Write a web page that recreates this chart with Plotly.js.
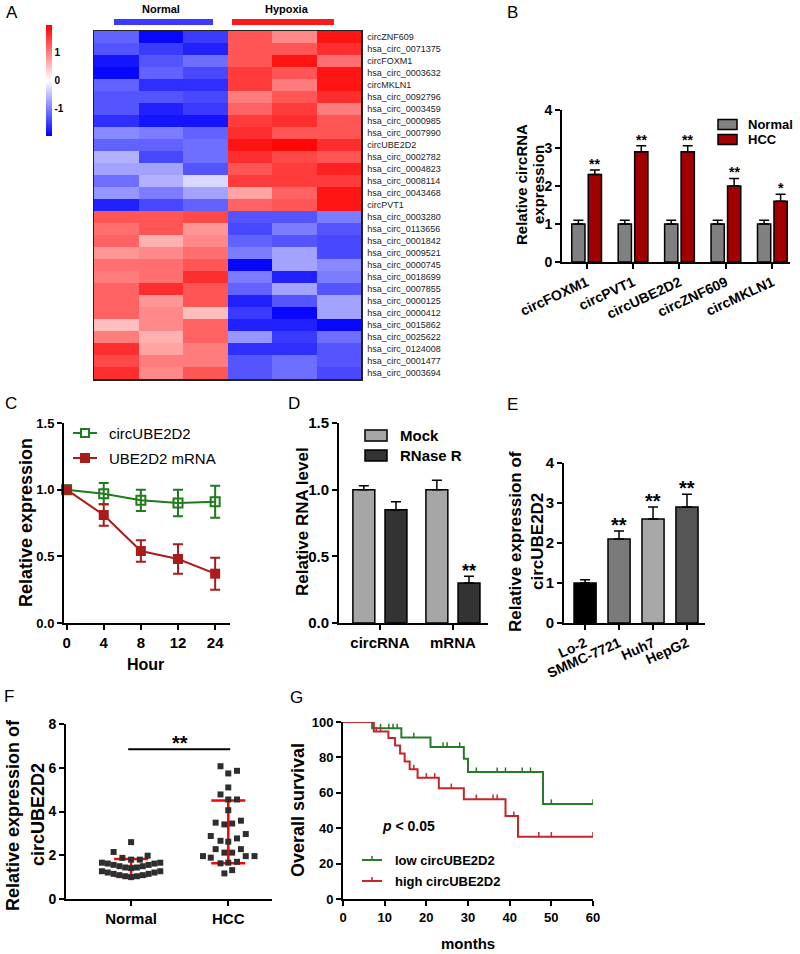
<!DOCTYPE html>
<html><head><meta charset="utf-8">
<script src="https://cdn.plot.ly/plotly-3.0.1.min.js"></script>
<style>html,body{margin:0;padding:0;background:#fff}#chart{width:800px;height:954px}</style>
</head><body><div id="chart"></div>
<script>
// ---------------- DATA ----------------
// Panel A heatmap
const heatRows = ["circZNF609","hsa_circ_0071375","circFOXM1","hsa_circ_0003632","circMKLN1","hsa_circ_0092796","hsa_circ_0003459","hsa_circ_0000985","hsa_circ_0007990","circUBE2D2","hsa_circ_0002782","hsa_circ_0004823","hsa_circ_0008114","hsa_circ_0043468","circPVT1","hsa_circ_0003280","hsa_circ_0113656","hsa_circ_0001842","hsa_circ_0009521","hsa_circ_0000745","hsa_circ_0018699","hsa_circ_0007855","hsa_circ_0000125","hsa_circ_0000412","hsa_circ_0015862","hsa_circ_0025622","hsa_circ_0124008","hsa_circ_0001477","hsa_circ_0003694"];
const normal1  = [-1.2,-1.3,-1.8,-1.9,-1.2,-1.3,-1.3,-1.6,-0.9,-1.2,-0.6,-0.7,-1.1,-0.8,-1.7, 1.3,1.1,1.2,0.8,1.1,1.0,1.2,1.2,1.2,0.5,1.0,1.6,1.4,1.6];
const normal2  = [-1.9,-1.5,-1.3,-1.2,-1.6,-1.3,-1.7,-1.8,-1.0,-1.2,-1.4,-0.7,-0.6,-1.0,-1.4, 1.3,1.3,0.6,0.9,1.1,1.1,1.6,0.8,0.9,0.9,0.6,0.7,1.0,0.9];
const normal3  = [-1.5,-1.7,-1.1,-1.4,-1.6,-1.4,-1.5,-1.8,-1.2,-1.1,-1.1,-1.3,-0.3,-0.7,-1.2, 1.4,0.8,0.9,1.1,1.3,1.6,1.3,1.3,0.5,1.2,1.2,1.0,1.0,1.3];
const hypoxia1 = [1.3,1.3,1.3,1.5,1.5,1.0,1.2,1.5,1.6,1.8,1.6,1.3,1.5,0.7,1.2, -1.3,-1.4,-1.2,-1.0,-1.9,-1.0,-1.2,-1.7,-1.5,-1.7,-0.8,-1.6,-1.3,-1.3];
const hypoxia2 = [0.9,1.3,1.8,1.3,1.0,1.3,1.5,1.6,1.3,1.9,1.4,1.5,1.5,1.2,1.3, -1.3,-1.0,-1.3,-0.7,-0.7,-1.7,-0.7,-1.3,-1.9,-1.7,-1.5,-1.6,-1.1,-1.1];
const hypoxia3 = [1.8,1.6,1.1,1.8,1.8,1.6,1.0,1.3,1.3,1.6,1.3,1.7,1.5,1.8,1.8, -1.0,-1.3,-1.4,-1.4,-0.9,-1.0,-1.3,-0.7,-0.7,-1.9,-1.1,-1.3,-1.3,-1.4];
const heatCols = ["N1","N2","N3","H1","H2","H3"];

// Panel B
const circNames = ["circFOXM1","circPVT1","circUBE2D2","circZNF609","circMKLN1"];
const bNormal = [1.0,1.0,1.0,1.0,1.0];
const bNormalErr = [0.1,0.1,0.1,0.1,0.1];
const bHCC = [2.3,2.9,2.9,2.0,1.6];
const bHCCErr = [0.12,0.16,0.16,0.2,0.18];
const bStars = ["**","**","**","**","*"];

// Panel C
const hours = ["0","4","8","12","24"];
const cCirc = [1.0,0.97,0.92,0.90,0.91];
const cCircErr = [0.01,0.08,0.08,0.10,0.12];
const cMrna = [1.0,0.81,0.54,0.48,0.37];
const cMrnaErr = [0.01,0.08,0.08,0.11,0.12];

// Panel D
const dCats = ["circRNA","mRNA"];
const dMock = [1.0,1.0];
const dMockErr = [0.03,0.07];
const dRnase = [0.85,0.30];
const dRnaseErr = [0.06,0.05];
const dStars = ["","**"];

// Panel E
const eCells = ["Lo-2","SMMC-7721","Huh7","HepG2"];
const eVals = [1.0,2.1,2.6,2.9];
const eErr = [0.08,0.2,0.3,0.32];
const eStars = ["","**","**","**"];

// Panel F
const fGroups = ["Normal","HCC"];
const fNormalVals = [2.6,2.15,1.88,1.8,1.8,1.98, 1.66,1.62,1.56,1.5,1.44,1.41,1.44,1.5,1.56,1.62,1.66, 1.27,1.21,1.15,1.09,1.04,1.0,1.04,1.09,1.15,1.21,1.27];
const fNormalJit  = [0,-0.18,-0.09,0,0.09,0.17, -0.3,-0.24,-0.18,-0.12,-0.06,0,0.06,0.12,0.18,0.24,0.3, -0.3,-0.24,-0.18,-0.12,-0.06,0,0.06,0.12,0.18,0.24,0.3];
const fHccVals = [6.07,5.74,5.86,5.10,4.78,4.55,4.55,4.06,3.49,3.41,3.45,3.58,2.88,2.66,2.62,2.77,2.97,2.28,2.12,2.12,2.28,1.96,1.89,1.96,1.96,1.63,1.66,1.70,1.17,1.32];
const fHccJit  = [-0.08,0,0.09,0,-0.08,0,0.09,0,-0.13,-0.04,0.04,0.13,-0.18,-0.08,0,0.09,0.18,-0.13,-0.04,0.04,0.13,-0.26,-0.18,0.18,0.27,-0.08,0,0.09,-0.04,0.04];
const fMean = [1.44,3.07];
const fSD = [0.39,1.43];

// Panel G
const lowTimes = [0,7,14,21,29,30,48,60];
const lowSurv  = [100,96.4,91.3,85.9,79.2,71.7,53.7,53.7];
const highTimes = [0,7.4,10.9,12.5,13.7,14.8,16,17.9,23,29,39,42,60];
const highSurv  = [100,94.6,91.0,86.7,82.2,77.7,73.3,68.5,62.6,56.4,46.9,35.2,35.2];
const lowCensor = [1,2,3,4,5,6,9,11,12,13,17,24,25,28,32,37,39,43,45,50,60];
const highCensor = [8,9,17,20,22,26,32,36,37,41,47,50,60];

// ---------------- HELPERS ----------------
const W = 800, H = 954;
const FONT = 'Arial, "Liberation Sans", sans-serif';
const px = v => v / W;
const py = v => 1 - v / H;
const dX = (a, b) => [a / W, b / W];
const dY = (top, bottom) => [1 - bottom / H, 1 - top / H];
function ax(size, extra) {
  return Object.assign({
    showline: true, linecolor: '#000', linewidth: 2, ticks: 'outside', ticklen: 5, tickwidth: 2,
    tickcolor: '#000', showgrid: false, zeroline: false, fixedrange: true,
    tickfont: {family: FONT, size: size, color: '#000', weight: 'bold'}
  }, extra);
}
const annotations = [];
function txt(text, x, y, o) {
  o = o || {};
  annotations.push(Object.assign({
    text: text, x: px(x), y: py(y), xref: 'paper', yref: 'paper', showarrow: false,
    xanchor: 'center', yanchor: 'middle',
    font: {family: FONT, size: o.size || 14, color: o.color || '#000', weight: o.bold === false ? 'normal' : 'bold'}
  }, o.extra || {}));
}
const shapes = [];
function rect(x0, y0, x1, y1, fill, lw) {
  shapes.push({type: 'rect', xref: 'paper', yref: 'paper', x0: px(x0), x1: px(x1), y0: py(y1), y1: py(y0),
    fillcolor: fill, line: {color: '#000', width: lw === undefined ? 1.5 : lw}});
}
function line(x0, y0, x1, y1, color, w) {
  shapes.push({type: 'line', xref: 'paper', yref: 'paper', x0: px(x0), x1: px(x1), y0: py(y0), y1: py(y1),
    line: {color: color, width: w}});
}
function stepAt(times, surv, t) {
  let s = surv[0];
  for (let i = 0; i < times.length; i++) if (times[i] <= t) s = surv[i];
  return s;
}
const upErr = (arr, color, w, th) => ({type: 'data', array: arr, arrayminus: arr.map(() => 0), symmetric: false,
  color: color || '#000', thickness: th || 1.5, width: w || 5});

const traces = [];

// ---------------- A: HEATMAP ----------------
const zA = heatRows.map((r, i) => [normal1[i], normal2[i], normal3[i], hypoxia1[i], hypoxia2[i], hypoxia3[i]]);
traces.push({
  type: 'heatmap', x: heatCols.map((c, i) => i), y: heatRows, z: zA, xaxis: 'x', yaxis: 'y',
  zmin: -1.95, zmax: 1.95,
  colorscale: [[0, '#0000ff'], [0.5, '#ffffff'], [1, '#ff0000']],
  colorbar: {x: px(46), xanchor: 'left', y: py(80.5), yanchor: 'middle', len: 111, lenmode: 'pixels',
    thickness: 6, thicknessmode: 'pixels', outlinewidth: 0, xpad: 0, ypad: 0,
    tickvals: [-1, 0, 1], ticktext: ['-1', '0', '1'], ticks: '', ticklabelstandoff: 6,
    tickfont: {family: FONT, size: 10, color: '#000', weight: 'bold'}},
  hoverinfo: 'skip'
});

// ---------------- B ----------------
const bIdx = circNames.map((c, i) => i);
traces.push({type: 'bar', x: bIdx, y: bNormal, width: 0.285, offset: -0.32, xaxis: 'x2', yaxis: 'y2',
  marker: {color: '#808080', line: {color: '#000', width: 1.5}}, error_y: upErr(bNormalErr)});
traces.push({type: 'bar', x: bIdx, y: bHCC, width: 0.285, offset: 0.035, xaxis: 'x2', yaxis: 'y2',
  marker: {color: '#a00000', line: {color: '#000', width: 1.5}}, error_y: upErr(bHCCErr)});
bIdx.forEach(i => annotations.push({text: bStars[i], x: i + 0.035 + 0.1425, y: bHCC[i] + bHCCErr[i],
  xref: 'x2', yref: 'y2', showarrow: false, yanchor: 'bottom', yshift: -4,
  font: {family: FONT, size: 14, color: '#000', weight: 'bold'}}));

// ---------------- C ----------------
const cIdx = hours.map((h, i) => i);
traces.push({type: 'scatter', mode: 'lines+markers', x: cIdx, y: cCirc, xaxis: 'x3', yaxis: 'y3', cliponaxis: false,
  line: {color: '#1e7b1e', width: 2}, marker: {symbol: 'square-open', size: 9, color: '#1e7b1e', line: {width: 2, color: '#1e7b1e'}},
  error_y: {type: 'data', array: cCircErr, color: '#1e7b1e', thickness: 2, width: 5}});
traces.push({type: 'scatter', mode: 'lines+markers', x: cIdx, y: cMrna, xaxis: 'x3', yaxis: 'y3', cliponaxis: false,
  line: {color: '#a81c1c', width: 2}, marker: {symbol: 'square', size: 10, color: '#a81c1c'},
  error_y: {type: 'data', array: cMrnaErr, color: '#a81c1c', thickness: 2, width: 5}});

// ---------------- D ----------------
const dIdx = dCats.map((c, i) => i);
traces.push({type: 'bar', x: dIdx, y: dMock, width: 0.3, offset: -0.37, xaxis: 'x4', yaxis: 'y4',
  marker: {color: '#a6a6a6', line: {color: '#000', width: 1.5}}, error_y: upErr(dMockErr)});
traces.push({type: 'bar', x: dIdx, y: dRnase, width: 0.3, offset: 0.07, xaxis: 'x4', yaxis: 'y4',
  marker: {color: '#333333', line: {color: '#000', width: 1.5}}, error_y: upErr(dRnaseErr)});
dIdx.forEach(i => annotations.push({text: dStars[i], x: i + 0.22, y: dRnase[i] + dRnaseErr[i],
  xref: 'x4', yref: 'y4', showarrow: false, yanchor: 'bottom', yshift: -7,
  font: {family: FONT, size: 18, color: '#000', weight: 'bold'}}));

// ---------------- E ----------------
const eIdx = eCells.map((c, i) => i);
traces.push({type: 'bar', x: eIdx, y: eVals, width: 0.65, xaxis: 'x5', yaxis: 'y5',
  marker: {color: ['#000000', '#7a7a7a', '#a8a8a8', '#555555'], line: {color: '#000', width: 1.5}},
  error_y: upErr(eErr)});
eIdx.forEach(i => annotations.push({text: eStars[i], x: i, y: eVals[i] + eErr[i],
  xref: 'x5', yref: 'y5', showarrow: false, yanchor: 'bottom', yshift: -7,
  font: {family: FONT, size: 20, color: '#000', weight: 'bold'}}));

// ---------------- F ----------------
traces.push({type: 'scatter', mode: 'markers', x: [0, 1], y: fMean, xaxis: 'x6', yaxis: 'y6', cliponaxis: false,
  marker: {size: 1, color: 'rgba(0,0,0,0)'},
  error_y: {type: 'data', array: fSD, color: '#ff0000', thickness: 2.5, width: 17}});
traces.push({type: 'scatter', mode: 'markers', x: fNormalVals.map((v, i) => 0 + fNormalJit[i]), y: fNormalVals,
  xaxis: 'x6', yaxis: 'y6', cliponaxis: false, marker: {symbol: 'square', size: 6, color: '#2e2e2e'}});
traces.push({type: 'scatter', mode: 'markers', x: fHccVals.map((v, i) => 1 + fHccJit[i]), y: fHccVals,
  xaxis: 'x6', yaxis: 'y6', cliponaxis: false, marker: {symbol: 'square', size: 6, color: '#2e2e2e'}});
shapes.push({type: 'line', xref: 'x6', yref: 'y6', x0: -0.03, x1: 1.02, y0: 6.85, y1: 6.85, line: {color: '#000', width: 2}});
annotations.push({text: '**', x: 0.5, y: 6.85, xref: 'x6', yref: 'y6', showarrow: false, yanchor: 'bottom', yshift: -7,
  font: {family: FONT, size: 20, color: '#000', weight: 'bold'}});

// ---------------- G ----------------
const gGreen = '#2a7a2a', gRed = '#c4262b';
traces.push({type: 'scatter', mode: 'lines', x: lowTimes, y: lowSurv, xaxis: 'x7', yaxis: 'y7', cliponaxis: false,
  line: {shape: 'hv', color: gGreen, width: 2}});
traces.push({type: 'scatter', mode: 'lines', x: highTimes, y: highSurv, xaxis: 'x7', yaxis: 'y7', cliponaxis: false,
  line: {shape: 'hv', color: gRed, width: 2}});
traces.push({type: 'scatter', mode: 'markers', x: lowCensor, y: lowCensor.map(t => stepAt(lowTimes, lowSurv, t)),
  xaxis: 'x7', yaxis: 'y7', cliponaxis: false, marker: {size: 1, color: 'rgba(0,0,0,0)'},
  error_y: {type: 'constant', value: 2.6, valueminus: 0, symmetric: false, color: gGreen, thickness: 1.5, width: 0}});
traces.push({type: 'scatter', mode: 'markers', x: highCensor, y: highCensor.map(t => stepAt(highTimes, highSurv, t)),
  xaxis: 'x7', yaxis: 'y7', cliponaxis: false, marker: {size: 1, color: 'rgba(0,0,0,0)'},
  error_y: {type: 'constant', value: 2.6, valueminus: 0, symmetric: false, color: gRed, thickness: 1.5, width: 0}});

// ---------------- TEXT / LEGENDS ----------------
// panel letters
[['A', 12, 13], ['B', 512, 13], ['C', 11, 403], ['D', 294, 403], ['E', 512, 404], ['F', 9, 696], ['G', 296, 697]]
  .forEach(l => txt(l[0], l[1], l[2], {size: 17, bold: false}));
// A group labels
txt('Normal', 161, 9.5, {size: 11});
txt('Hypoxia', 287, 9.5, {size: 11});
rect(114, 19, 213, 25, '#3a3aff', 0);
rect(232, 19, 334, 25, '#ff1a1a', 0);
// B
txt('Relative circRNA', 521, 185, {size: 15, extra: {textangle: -90}});
txt('expression', 538, 185, {size: 15, extra: {textangle: -90}});
rect(718, 119.5, 737, 129.5, '#808080');
rect(718, 134.5, 737, 144.5, '#a00000');
txt('Normal', 746, 124.5, {size: 13, extra: {xanchor: 'left'}});
txt('HCC', 746, 139.5, {size: 13, extra: {xanchor: 'left'}});
// C
txt('Relative expression', 26, 523, {size: 18, extra: {textangle: -90}});
txt('Hour', 145, 664, {size: 16});
line(73, 433, 97, 433, '#1e7b1e', 2);
shapes.push({type: 'rect', xref: 'paper', yref: 'paper', x0: px(81), x1: px(89), y0: py(437), y1: py(429), fillcolor: '#fff', line: {color: '#1e7b1e', width: 2}});
txt('circUBE2D2', 107, 433, {size: 15, bold: false, extra: {xanchor: 'left'}});
line(73, 458, 97, 458, '#a81c1c', 2);
shapes.push({type: 'rect', xref: 'paper', yref: 'paper', x0: px(80), x1: px(90), y0: py(463), y1: py(453), fillcolor: '#a81c1c', line: {color: '#a81c1c', width: 0}});
txt('UBE2D2 mRNA', 107, 458, {size: 15, bold: false, extra: {xanchor: 'left'}});
// D
txt('Relative RNA level', 302, 522, {size: 17, extra: {textangle: -90}});
rect(365, 430, 387, 441, '#a6a6a6');
rect(365, 450, 387, 461, '#333333');
txt('Mock', 398, 435.5, {size: 15, extra: {xanchor: 'left'}});
txt('RNase R', 398, 455.5, {size: 15, extra: {xanchor: 'left'}});
// E
txt('Relative expression of', 515, 542, {size: 17, extra: {textangle: -90}});
txt('circUBE2D2', 537, 542, {size: 17, extra: {textangle: -90}});
// F
txt('Relative expression of', 13, 815, {size: 18, extra: {textangle: -90}});
txt('circUBE2D2', 38, 815, {size: 18, extra: {textangle: -90}});
// G
txt('Overall survival', 298, 810, {size: 18, extra: {textangle: -90}});
txt('months', 468, 943, {size: 15});
txt('<i>p</i> &lt; 0.05', 380, 826, {size: 14, extra: {xanchor: 'left'}});
line(362, 860, 382, 860, gGreen, 2);
line(372, 860, 372, 856, gGreen, 1.5);
txt('low circUBE2D2', 393, 860, {size: 13, extra: {xanchor: 'left'}});
line(362, 881, 382, 881, gRed, 2);
line(372, 881, 372, 877, gRed, 1.5);
txt('high circUBE2D2', 393, 881, {size: 13, extra: {xanchor: 'left'}});

// ---------------- LAYOUT ----------------
const layout = {
  width: W, height: H, margin: {l: 0, r: 0, t: 0, b: 0}, showlegend: false,
  paper_bgcolor: '#fff', plot_bgcolor: 'rgba(0,0,0,0)', barmode: 'overlay',
  font: {family: FONT, color: '#000'},
  xaxis: {domain: dX(94, 361), anchor: 'y', range: [-0.5, 5.5], showticklabels: false, ticks: '',
    showline: true, mirror: true, linecolor: '#222', linewidth: 1.5, showgrid: false, zeroline: false, fixedrange: true},
  yaxis: {domain: dY(31, 379), anchor: 'x', type: 'category', autorange: 'reversed', side: 'right', ticks: '',
    showline: true, mirror: true, linecolor: '#222', linewidth: 1.5, showgrid: false, zeroline: false, fixedrange: true,
    ticklabelstandoff: 3, tickfont: {family: FONT, size: 9, color: '#222'}},
  xaxis2: ax(14, {domain: dX(562, 790), anchor: 'y2', range: [-0.53, 4.38], tickvals: bIdx, ticktext: circNames, tickangle: -25}),
  yaxis2: ax(14, {domain: dY(110, 262), anchor: 'x2', range: [0, 4], tickvals: [0, 1, 2, 3, 4]}),
  xaxis3: ax(15, {domain: dX(64, 230), anchor: 'y3', range: [-0.07, 4.4], tickvals: cIdx, ticktext: hours}),
  yaxis3: ax(13, {domain: dY(423, 623), anchor: 'x3', range: [0, 1.5], tickvals: [0, 0.5, 1, 1.5], tickformat: '.1f'}),
  xaxis4: ax(15, {domain: dX(339, 488), anchor: 'y4', range: [-0.56, 1.48], tickvals: dIdx, ticktext: dCats}),
  yaxis4: ax(15, {domain: dY(423, 623), anchor: 'x4', range: [0, 1.5], tickvals: [0, 0.5, 1, 1.5], tickformat: '.1f'}),
  xaxis5: ax(14, {domain: dX(564, 705), anchor: 'y5', range: [-0.62, 3.53], tickvals: eIdx, ticktext: eCells, tickangle: -24}),
  yaxis5: ax(15, {domain: dY(463, 623), anchor: 'x5', range: [0, 4], tickvals: [0, 1, 2, 3, 4]}),
  xaxis6: ax(15, {domain: dX(66, 272), anchor: 'y6', range: [-0.67, 1.45], tickvals: [0, 1], ticktext: fGroups}),
  yaxis6: ax(14, {domain: dY(724, 899), anchor: 'x6', range: [0, 8], tickvals: [0, 2, 4, 6, 8]}),
  xaxis7: ax(13, {domain: dX(343, 593), anchor: 'y7', range: [0, 60], tickvals: [0, 10, 20, 30, 40, 50, 60]}),
  yaxis7: ax(13, {domain: dY(722, 899), anchor: 'x7', range: [0, 100], tickvals: [0, 20, 40, 60, 80, 100]}),
  annotations: annotations, shapes: shapes
};
Plotly.newPlot('chart', traces, layout, {staticPlot: true, displayModeBar: false});
</script></body></html>
